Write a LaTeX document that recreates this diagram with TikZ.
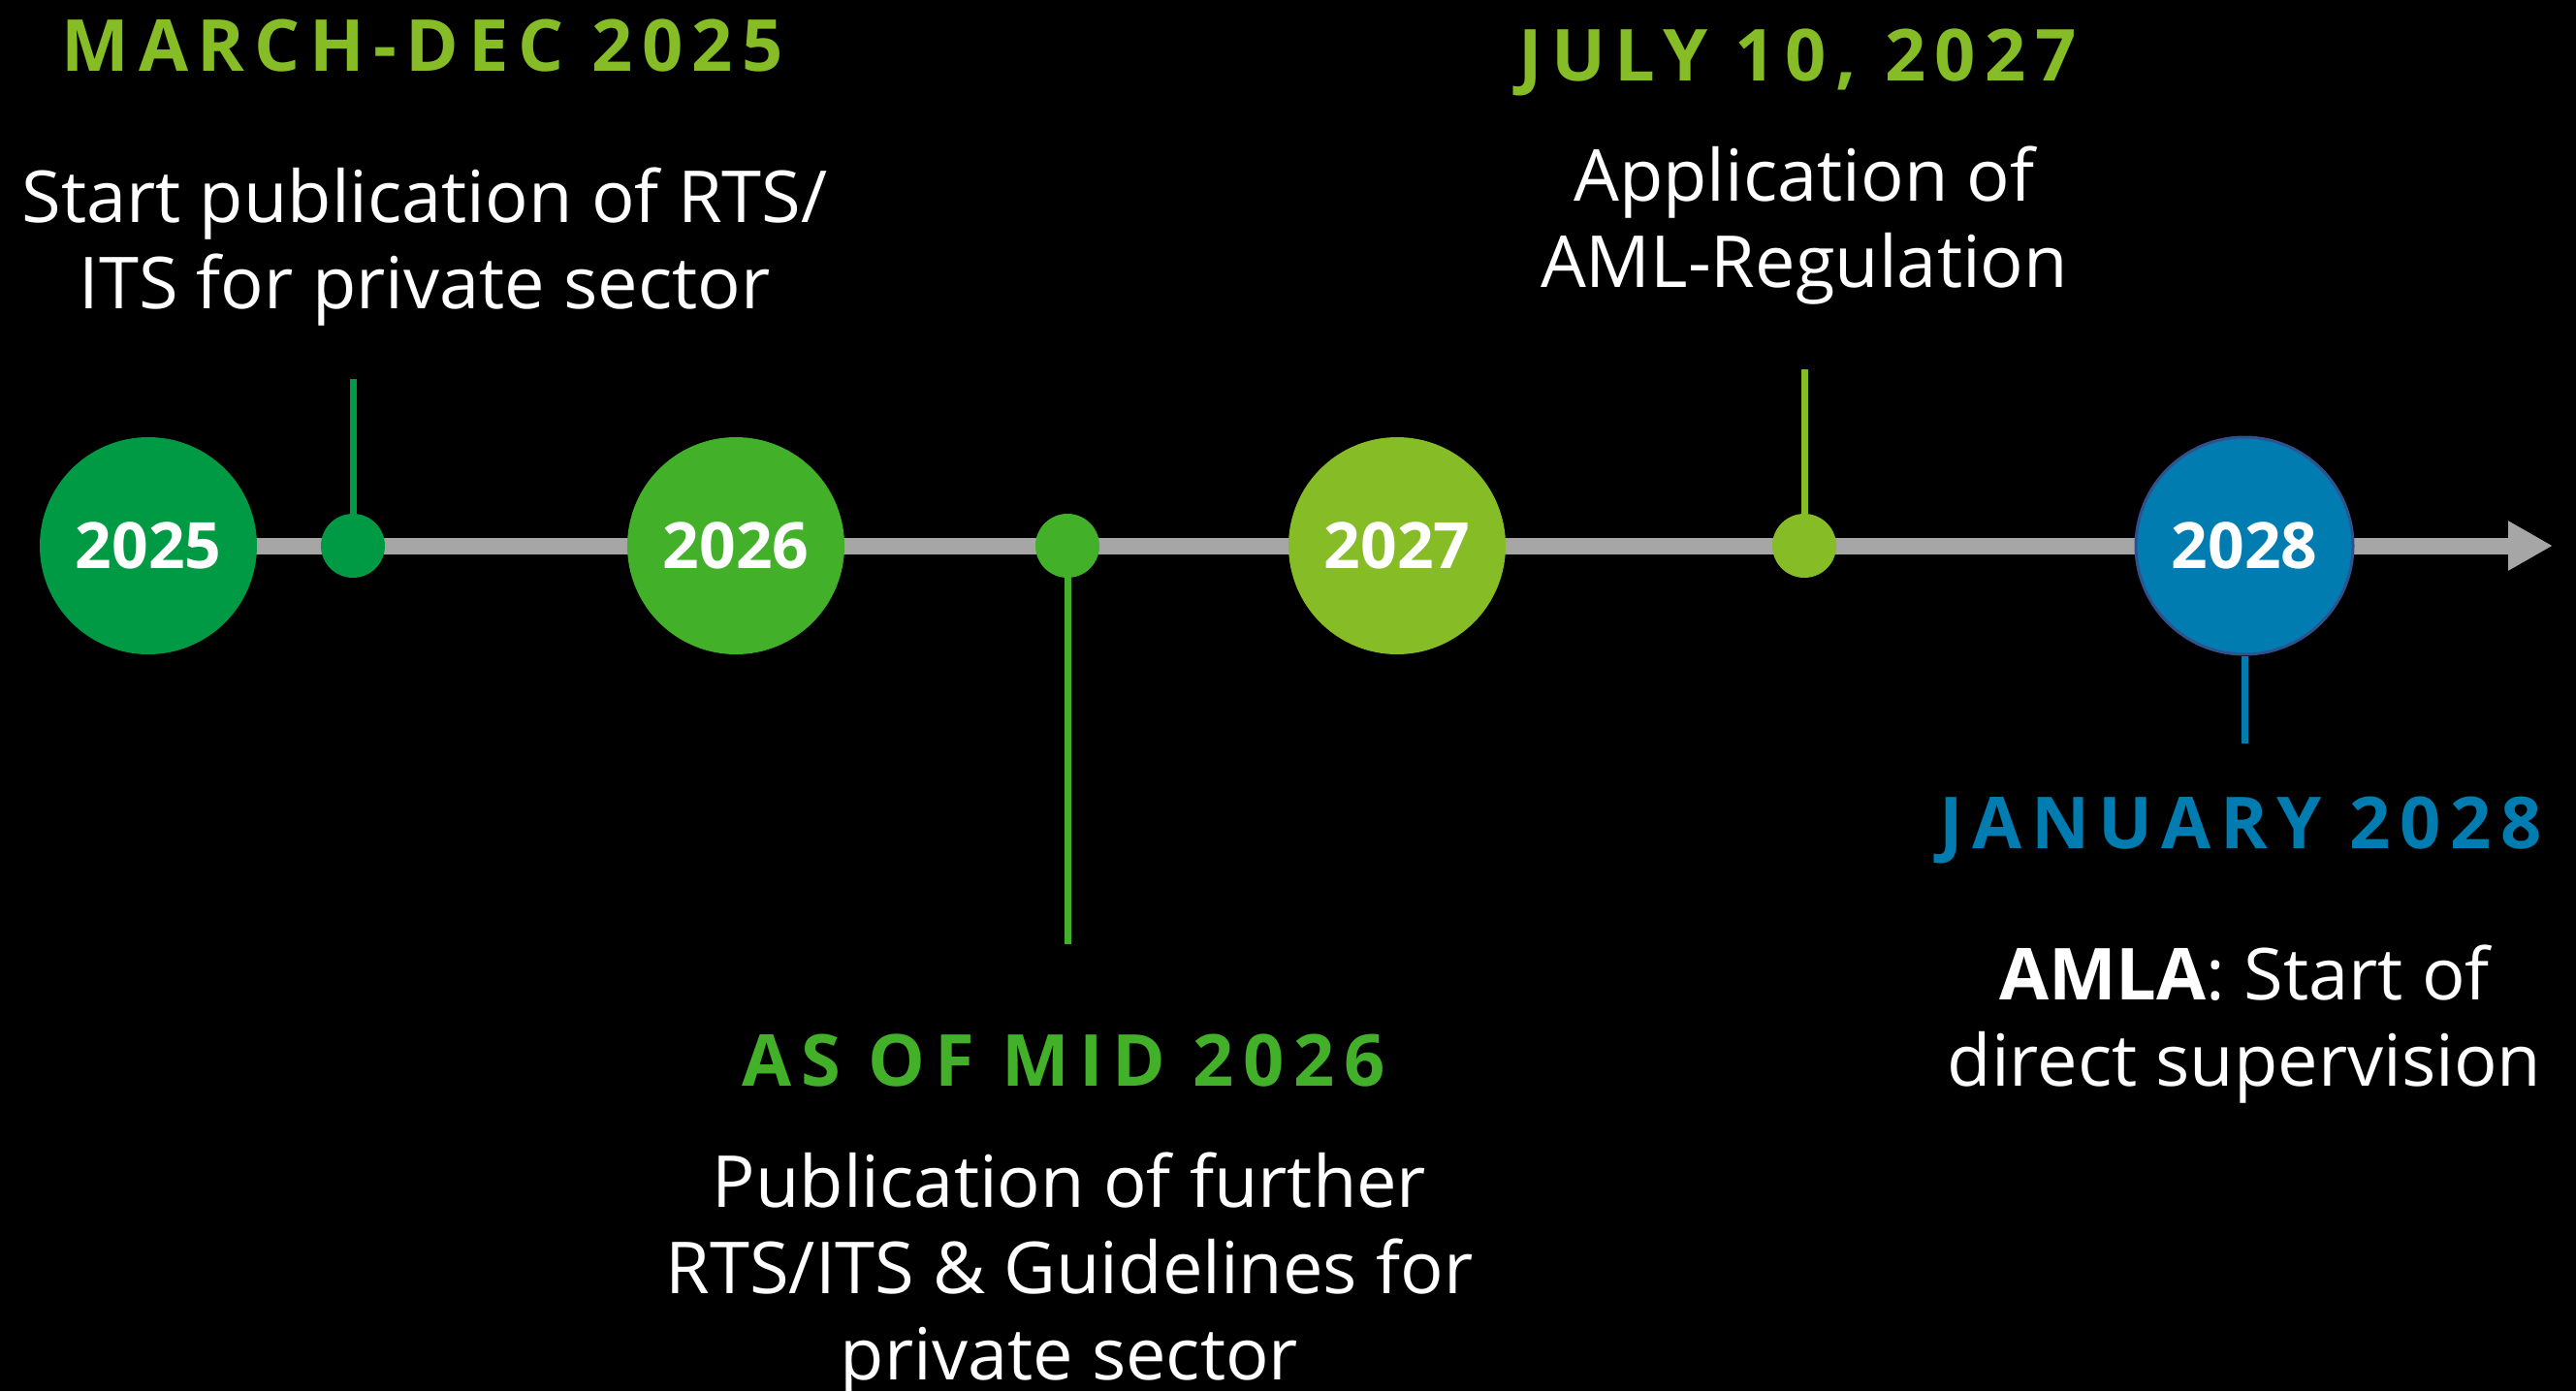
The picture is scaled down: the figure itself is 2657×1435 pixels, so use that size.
\documentclass[tikz,border=0pt]{standalone}
\usepackage{fontspec}
\setmainfont{Open Sans}
\usetikzlibrary{arrows.meta, positioning, backgrounds}

\definecolor{darkgreen}{HTML}{009A44}
\definecolor{midgreen}{HTML}{43B02A}
\definecolor{limegreen}{HTML}{86BC25}
\definecolor{bluefill}{HTML}{007CB0}
\definecolor{blueedge}{HTML}{2F528F}
\definecolor{linegray}{HTML}{A6A6A6}

\tikzset{
	year/.style={circle, minimum size=224pt, inner sep=0pt, text=white, font=\fontsize{66}{66}\selectfont\bfseries},
	dot/.style={circle, minimum size=66pt, inner sep=0pt},
	stem/.style={line width=7pt},
	heading/.style={anchor=base, inner sep=0pt, font=\fontsize{74}{74}\selectfont\bfseries\addfontfeature{LetterSpace=13}},
	desc/.style={anchor=base, align=center, inner sep=0pt, text=white, font=\fontsize{74}{89}\selectfont},
}

\begin{document}
\begin{tikzpicture}[x=1pt, y=-1pt, on grid, >={Triangle[length=46pt, width=48pt]}]
	\useasboundingbox (0,0) rectangle (2657,1435);
	
	\node (c2025) [year, fill=darkgreen] at (153,563) {2025};
	\node (d1) [dot, fill=darkgreen, right=211pt of c2025] {};
	\node (c2026) [year, fill=midgreen, right=395pt of d1] {2026};
	\node (d2) [dot, fill=midgreen, right=342pt of c2026] {};
	\node (c2027) [year, fill=limegreen, right=340pt of d2] {2027};
	\node (d3) [dot, fill=limegreen, right=420pt of c2027] {};
	\node (c2028) [year, fill=bluefill, draw=blueedge, line width=3pt, right=454pt of d3] {2028};
	
	\coordinate (tip) at (2633,563);
	\node (s1) [coordinate, above=172pt of d1] {};
	\node (s2) [coordinate, below=411pt of d2] {};
	\node (s3) [coordinate, above=182pt of d3] {};
	\node (s4) [coordinate, below=204pt of c2028] {};
	
	% gray time axis behind the circles
	\begin{scope}[on background layer]
		\fill [black] (0,0) rectangle (2657,1435);
		\draw [line width=17pt, linegray, ->] (c2025.center) -- (tip);
	\end{scope}
	
	\draw [stem, darkgreen] (s1) -- (d1);
	\draw [stem, midgreen] (d2) -- (s2);
	\draw [stem, limegreen] (s3) -- (d3);
	\draw [stem, bluefill] (c2028) -- (s4);
	
	% base of a multi-line text is its last line
	\node (h1) [heading, text=limegreen] at (436,73) {MARCH-DEC 2025};
	\node (t1) [desc] at (438,318) {Start publication of RTS/\\ITS for private sector};
	
	\node (h2) [heading, text=midgreen] at (1097,1120) {AS OF MID 2026};
	\node (t2) [desc] at (1103,1423) {Publication of further\\RTS/ITS \& Guidelines for\\private sector};
	
	\node (h3) [heading, text=limegreen] at (1854,83) {JULY 10, 2027};
	\node (t3) [desc] at (1861,296) {Application of\\AML-Regulation};
	
	\node (h4) [heading, text=bluefill] at (2311,875) {JANUARY 2028};
	\node (t4) [desc] at (2315,1120) {\textbf{AMLA}: Start of\\direct supervision};
\end{tikzpicture}
\end{document}
